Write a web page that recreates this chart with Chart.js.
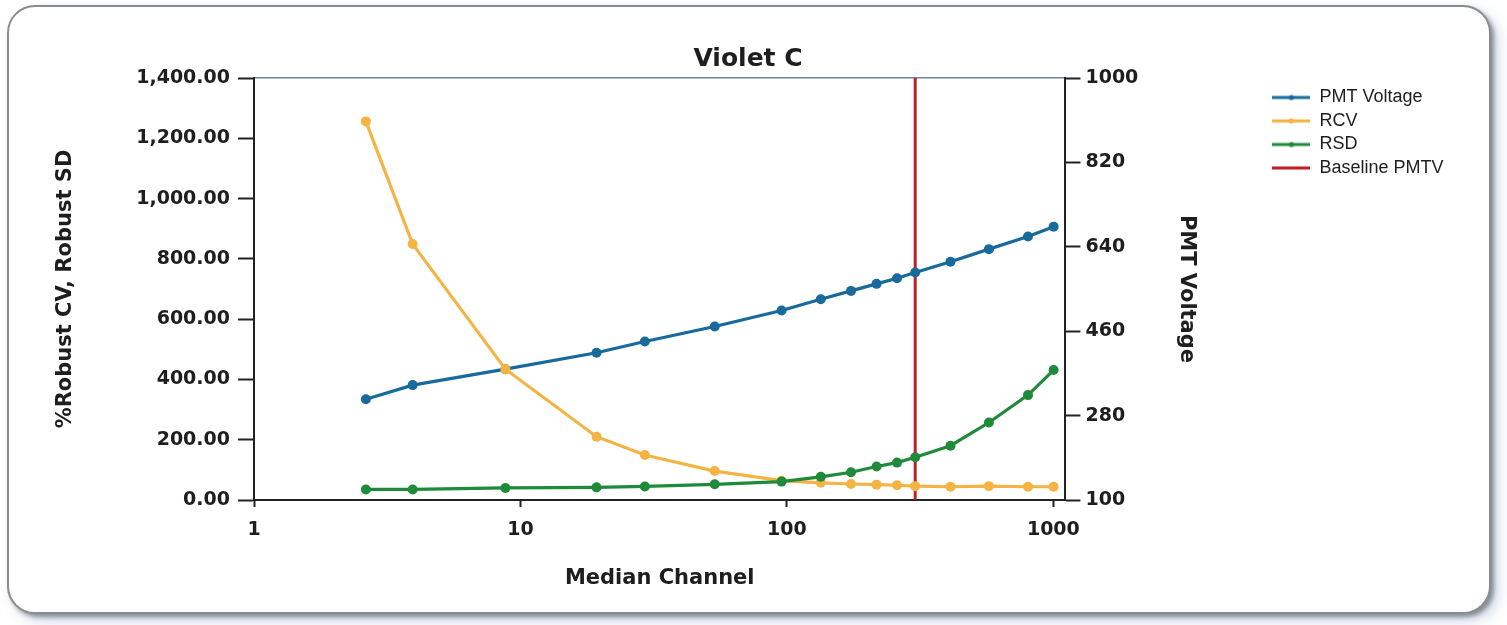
<!DOCTYPE html>
<html>
<head>
<meta charset="utf-8">
<title>Violet C</title>
<script src="https://cdn.jsdelivr.net/npm/chart.js@4.4.0/dist/chart.umd.min.js"></script>
<style>
  html, body { margin: 0; padding: 0; background: #ffffff; }
  body { width: 1507px; height: 625px; position: relative; overflow: hidden; }
  .card {
    position: absolute; left: 7px; top: 5px; width: 1480px; height: 605px;
    border: 2px solid #8c8c8c; border-radius: 28px; background: #fff;
    box-shadow: 3px 3px 4px rgba(70, 75, 90, 0.55), 7px 7px 14px rgba(150, 170, 200, 0.45);
  }
  #chart { position: absolute; left: 0; top: 0; }
</style>
</head>
<body>
<div class="card"></div>
<canvas id="chart" width="1507" height="625"></canvas>
<script>
// Median channel of each measurement (shared by all three series)
const medianChannel = [2.63, 3.94, 8.78, 19.3, 29.3, 53.6, 95.5, 134, 174, 217, 259, 303, 411, 573, 803, 1002];
const pmtVoltage = [315, 345, 379, 414, 438, 470, 504, 528, 546, 561, 573, 585, 608, 635, 662, 683];
const rcv = [1256, 849, 434, 210, 149, 96, 64, 57, 53, 51, 49, 46, 44, 46, 44, 44];
const rsd = [35, 35, 40, 42, 45, 52, 61, 77, 92, 111, 124, 142, 180, 257, 348, 431];
const baselineChannel = 303;
const baselineRange = [0, 1400];
const xTickValues = [1, 10, 100, 1000];

const colors = {
    pmt: '#176a9b',
    rcv: '#f4b444',
    rsd: '#1f8a3a',
    baseline: '#c21d26'
};

const textColor = '#1e1e1e';
const axisColor = '#222222';

function points(ys) {
    return medianChannel.map((x, i) => ({ x: x, y: ys[i] }));
}

// small line + dot swatch for the legend
function legendSwatch(color, withDot) {
    const c = document.createElement('canvas');
    c.width = 38;
    c.height = 10;
    const ctx = c.getContext('2d');
    ctx.strokeStyle = color;
    ctx.lineWidth = 3;
    ctx.beginPath();
    ctx.moveTo(0, 5);
    ctx.lineTo(38, 5);
    ctx.stroke();
    if (withDot) {
        ctx.fillStyle = color;
        ctx.beginPath();
        ctx.arc(19, 5, 2.6, 0, Math.PI * 2);
        ctx.fill();
    }
    return c;
}

Chart.defaults.font.family = 'DejaVu Sans';
Chart.defaults.color = textColor;

const lineDataset = (label, data, color, axis, order) => ({
    label: label,
    data: points(data),
    yAxisID: axis,
    borderColor: color,
    backgroundColor: color,
    pointBackgroundColor: color,
    pointBorderColor: color,
    borderWidth: 3.2,
    pointRadius: 5,
    pointBorderWidth: 0,
    tension: 0,
    order: order
});

new Chart(document.getElementById('chart'), {
    type: 'line',
    data: {
        datasets: [
            lineDataset('PMT Voltage', pmtVoltage, colors.pmt, 'y2', 2),
            lineDataset('RCV', rcv, colors.rcv, 'y', 1),
            lineDataset('RSD', rsd, colors.rsd, 'y', 0),
            {
                label: 'Baseline PMTV',
                data: baselineRange.map(v => ({ x: baselineChannel, y: v })),
                yAxisID: 'y',
                borderColor: colors.baseline,
                backgroundColor: colors.baseline,
                borderWidth: 3,
                pointRadius: 0,
                order: 3
            }
        ]
    },
    options: {
        responsive: false,
        animation: false,
        events: [],
        layout: { padding: { left: 42.5, right: 53.5, top: 0, bottom: 30 } },
        plugins: {
            title: {
                display: true,
                text: 'Violet C',
                color: textColor,
                font: { size: 25, weight: 'bold' },
                padding: { top: 44, bottom: 4 }
            },
            legend: {
                position: 'right',
                align: 'start',
                fullSize: false,
                title: {
                    display: true,
                    text: ' ',
                    font: { size: 1 },
                    padding: { top: 3.8, bottom: 0 }
                },
                labels: {
                    usePointStyle: true,
                    pointStyleWidth: 38,
                    padding: 5.5,
                    color: '#222',
                    font: { family: 'Liberation Sans', size: 18 },
                    generateLabels: (chart) => chart.data.datasets.map((ds, i) => ({
                        text: ds.label,
                        fillStyle: ds.borderColor,
                        strokeStyle: ds.borderColor,
                        lineWidth: 0,
                        hidden: false,
                        datasetIndex: i,
                        pointStyle: legendSwatch(ds.borderColor, i < 3)
                    }))
                }
            },
            tooltip: { enabled: false }
        },
        scales: {
            x: {
                type: 'logarithmic',
                position: 'bottom',
                min: 1,
                max: 1110,
                afterBuildTicks: (scale) => {
                    scale.ticks = xTickValues.map(v => ({ value: v }));
                },
                afterFit: (scale) => { scale.height = 95; },
                ticks: {
                    autoSkip: false,
                    maxRotation: 0,
                    padding: 12,
                    color: textColor,
                    font: { size: 19, weight: 'bold' },
                    callback: (v) => String(v)
                },
                grid: {
                    drawOnChartArea: false,
                    drawTicks: true,
                    tickLength: 7,
                    tickWidth: 2,
                    tickColor: axisColor
                },
                border: { color: axisColor, width: 2 },
                title: {
                    display: true,
                    text: 'Median Channel',
                    color: textColor,
                    font: { size: 21, weight: 'bold' },
                    padding: { top: 23, bottom: 3.4 }
                }
            },
            xTop: {
                type: 'linear',
                position: 'top',
                ticks: { display: false },
                grid: { drawOnChartArea: false, drawTicks: false },
                border: { color: '#6e879f', width: 1.5 }
            },
            y: {
                position: 'left',
                min: 0,
                max: 1400,
                afterFit: (scale) => { scale.width = 211.5; },
                ticks: {
                    stepSize: 200,
                    padding: 8,
                    color: textColor,
                    font: { size: 19, weight: 'bold' },
                    callback: (v) => v.toLocaleString('en-US', { minimumFractionDigits: 2, maximumFractionDigits: 2 })
                },
                grid: {
                    drawOnChartArea: false,
                    tickLength: 16,
                    tickWidth: 2,
                    tickColor: axisColor
                },
                border: { color: axisColor, width: 2 },
                title: {
                    display: true,
                    text: '%Robust CV, Robust SD',
                    color: textColor,
                    font: { size: 21, weight: 'bold' },
                    padding: { top: 10, bottom: 0 }
                }
            },
            y2: {
                position: 'right',
                min: 100,
                max: 1000,
                afterFit: (scale) => { scale.width = 201.5; },
                ticks: {
                    stepSize: 180,
                    padding: 5,
                    color: textColor,
                    font: { size: 19, weight: 'bold' },
                    callback: (v) => String(v)
                },
                grid: {
                    drawOnChartArea: false,
                    tickLength: 15,
                    tickWidth: 2,
                    tickColor: axisColor
                },
                border: { color: axisColor, width: 2 },
                title: {
                    display: true,
                    text: 'PMT Voltage',
                    color: textColor,
                    font: { size: 21, weight: 'bold' },
                    padding: { top: 68, bottom: 0 }
                }
            }
        }
    }
});
</script>
</body>
</html>
